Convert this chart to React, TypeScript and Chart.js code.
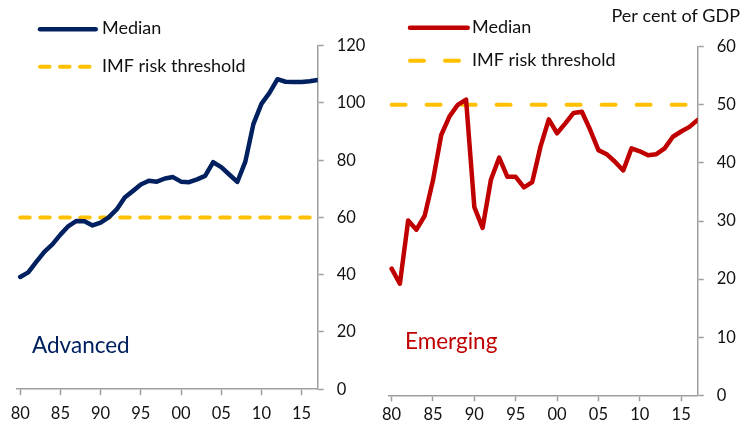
import React, { useEffect, useRef } from "react";
import { Chart, registerables } from "chart.js";

Chart.register(...registerables);

// ---------- data ----------
const years = [
  1980, 1981, 1982, 1983, 1984, 1985, 1986, 1987, 1988, 1989,
  1990, 1991, 1992, 1993, 1994, 1995, 1996, 1997, 1998, 1999,
  2000, 2001, 2002, 2003, 2004, 2005, 2006, 2007, 2008, 2009,
  2010, 2011, 2012, 2013, 2014, 2015, 2016, 2017,
];

const advancedMedian = [
  39.2, 40.8, 44.5, 48.0, 50.6, 54.0, 57.0, 58.8, 58.7, 57.2,
  58.2, 60.0, 62.8, 67.0, 69.2, 71.5, 72.8, 72.5, 73.6, 74.1,
  72.5, 72.3, 73.3, 74.5, 79.3, 77.6, 75.0, 72.4, 79.5, 92.6,
  99.7, 103.5, 108.3, 107.4, 107.3, 107.3, 107.6, 108.0,
];

const emergingMedian = [
  21.8, 19.2, 30.1, 28.5, 30.9, 37.0, 44.8, 48.0, 50.0, 50.9,
  32.4, 28.8, 37.1, 40.9, 37.6, 37.6, 35.8, 36.7, 42.8, 47.5,
  45.1, 46.8, 48.6, 48.8, 45.7, 42.2, 41.5, 40.2, 38.7, 42.5,
  42.0, 41.3, 41.5, 42.5, 44.5, 45.4, 46.2, 47.4,
];

const advancedThreshold = 60;
const emergingThreshold = 50;

const xTickYears = [1980, 1985, 1990, 1995, 2000, 2005, 2010, 2015];
const advancedYTicks = [0, 20, 40, 60, 80, 100, 120];
const emergingYTicks = [0, 10, 20, 30, 40, 50, 60];

const legendLabels = ["Median", "IMF risk threshold"];
const unitLabel = "Per cent of GDP";

// ---------- styles ----------
const FONT = "Lato, 'Open Sans', sans-serif";
const NAVY = "#002060";
const RED = "#C00000";
const GOLD = "#FFC000";
const AXIS = "#9f9f9f";

type PanelCfg = {
  name: string;
  values: number[];
  threshold: number;
  yTicks: number[];
  color: string;
  dash: number[];
  padLeft: number;
  padTop: number;
  yWidth: number;
  xHeight: number;
  xPad: number;
  width: number;
  legendY1: number;
  legendY2: number;
  labelX: number;
  labelY: number;
  medianEnd: number;
  showUnit: boolean;
};

function makeChart(canvas: HTMLCanvasElement, p: PanelCfg) {
  const median = years.map((yr, i) => ({ x: yr, y: p.values[i] }));
  const thr = years.map((yr) => ({ x: yr, y: p.threshold }));

  const overlay = {
    id: "overlay" + p.name,
    afterDraw(chart: any) {
      const ctx = chart.ctx as CanvasRenderingContext2D;
      ctx.save();
      // legend: median
      ctx.lineCap = "round";
      ctx.strokeStyle = p.color;
      ctx.lineWidth = 4.5;
      ctx.setLineDash([]);
      ctx.beginPath();
      ctx.moveTo(40, p.legendY1);
      ctx.lineTo(p.medianEnd, p.legendY1);
      ctx.stroke();
      // legend: threshold
      ctx.strokeStyle = GOLD;
      ctx.lineWidth = 4;
      ctx.setLineDash(p.dash);
      ctx.beginPath();
      ctx.moveTo(40, p.legendY2);
      ctx.lineTo(89.5, p.legendY2);
      ctx.stroke();
      ctx.setLineDash([]);
      ctx.fillStyle = "#111";
      ctx.font = `18px ${FONT}`;
      ctx.textBaseline = "middle";
      ctx.textAlign = "left";
      ctx.fillText(legendLabels[0], 102, p.legendY1 - 1);
      ctx.fillText(legendLabels[1], 102, p.legendY2 - 1);
      // panel label
      ctx.fillStyle = p.color;
      ctx.font = `22.5px ${FONT}`;
      ctx.textBaseline = "alphabetic";
      ctx.fillText(p.name, p.labelX, p.labelY);
      if (p.showUnit) {
        ctx.fillStyle = "#111";
        ctx.font = `18px ${FONT}`;
        ctx.textAlign = "right";
        ctx.textBaseline = "middle";
        ctx.fillText(unitLabel, p.width - 2, 16);
      }
      ctx.restore();
    },
  };

  return new Chart(canvas, {
    type: "line",
    data: {
      datasets: [
        {
          label: "IMF risk threshold",
          data: thr,
          borderColor: GOLD,
          borderWidth: 4,
          borderDash: p.dash,
          borderCapStyle: "round",
          pointRadius: 0,
          tension: 0,
          order: 2,
        },
        {
          label: "Median",
          data: median,
          borderColor: p.color,
          borderWidth: 4.5,
          borderJoinStyle: "round",
          borderCapStyle: "round",
          pointRadius: 0,
          tension: 0,
          order: 1,
        },
      ],
    },
    options: {
      animation: false,
      responsive: false,
      devicePixelRatio: 1,
      layout: { padding: { left: p.padLeft, top: p.padTop, right: 0, bottom: 0 } },
      plugins: { legend: { display: false }, tooltip: { enabled: false }, title: { display: false } },
      scales: {
        x: {
          type: "linear",
          min: 1979.6,
          max: 2017,
          afterBuildTicks: (s: any) => {
            s.ticks = xTickYears.map((v) => ({ value: v }));
          },
          afterFit: (s: any) => {
            s.height = p.xHeight;
          },
          ticks: {
            autoSkip: false,
            maxRotation: 0,
            padding: p.xPad,
            color: "#111",
            font: { family: FONT, size: 16.5 },
            callback: (v: any) => String(Number(v) % 100).padStart(2, "0"),
          },
          grid: {
            drawOnChartArea: false,
            drawTicks: true,
            tickLength: 6,
            tickColor: AXIS,
            tickWidth: 1.5,
          },
          border: { display: true, color: AXIS, width: 1.5 },
        },
        y: {
          position: "right",
          min: p.yTicks[0],
          max: p.yTicks[p.yTicks.length - 1],
          afterBuildTicks: (s: any) => {
            s.ticks = p.yTicks.map((v) => ({ value: v }));
          },
          afterFit: (s: any) => {
            s.width = p.yWidth;
          },
          ticks: {
            padding: 13,
            color: "#111",
            font: { family: FONT, size: 16.5 },
          },
          grid: {
            drawOnChartArea: false,
            drawTicks: true,
            tickLength: 6,
            tickColor: AXIS,
            tickWidth: 1.5,
          },
          border: { display: true, color: AXIS, width: 1.5 },
        },
      },
    } as any,
    plugins: [overlay],
  });
}

function Panel({ cfg, left }: { cfg: PanelCfg; left: number }) {
  const ref = useRef<HTMLCanvasElement | null>(null);
  useEffect(() => {
    if (!ref.current) return;
    const c = makeChart(ref.current, cfg);
    return () => c.destroy();
  }, []);
  return (
    <canvas
      ref={ref}
      width={cfg.width}
      height={431}
      style={{ position: "absolute", left, top: 0, width: cfg.width, height: 431 }}
    />
  );
}

const advancedCfg: PanelCfg = {
  name: "Advanced",
  values: advancedMedian,
  threshold: advancedThreshold,
  yTicks: advancedYTicks,
  color: NAVY,
  dash: [9.5, 10.5],
  padLeft: 17,
  padTop: 45.7,
  yWidth: 52.3,
  xHeight: 41.8,
  xPad: 9,
  width: 370,
  legendY1: 29.3,
  legendY2: 66.7,
  labelX: 32,
  labelY: 353,
  medianEnd: 95.7,
  showUnit: false,
};

const emergingCfg: PanelCfg = {
  name: "Emerging",
  values: emergingMedian,
  threshold: emergingThreshold,
  yTicks: emergingYTicks,
  color: RED,
  dash: [14, 21],
  padLeft: 18.3,
  padTop: 46.7,
  yWidth: 44.3,
  xHeight: 35.7,
  xPad: 3,
  width: 372,
  legendY1: 27.7,
  legendY2: 60.7,
  labelX: 35,
  labelY: 349.3,
  medianEnd: 97.7,
  showUnit: true,
};

export default function App() {
  return (
    <div style={{ position: "absolute", left: 0, top: 0, width: 742, height: 431, background: "#fff" }}>
      <Panel cfg={advancedCfg} left={0} />
      <Panel cfg={emergingCfg} left={370} />
    </div>
  );
}
